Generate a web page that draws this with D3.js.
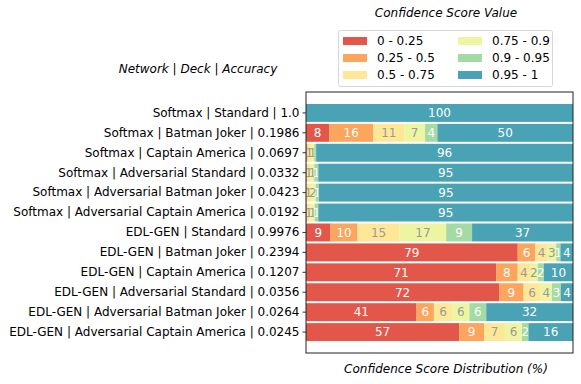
<!DOCTYPE html>
<html>
<head>
<meta charset="utf-8">
<script src="https://cdn.jsdelivr.net/npm/d3@7"></script>
<style>
  body { margin: 0; background: #fff; }
  text { font-family: "DejaVu Sans", sans-serif; }
</style>
</head>
<body>
<div id="chart"></div>
<script>
// rows: network | deck | accuracy
var rows = [
    "Softmax | Standard | 1.0",
    "Softmax | Batman Joker | 0.1986",
    "Softmax | Captain America | 0.0697",
    "Softmax | Adversarial Standard | 0.0332",
    "Softmax | Adversarial Batman Joker | 0.0423",
    "Softmax | Adversarial Captain America | 0.0192",
    "EDL-GEN | Standard | 0.9976",
    "EDL-GEN | Batman Joker | 0.2394",
    "EDL-GEN | Captain America | 0.1207",
    "EDL-GEN | Adversarial Standard | 0.0356",
    "EDL-GEN | Adversarial Batman Joker | 0.0264",
    "EDL-GEN | Adversarial Captain America | 0.0245"
];

var bins = ["0 - 0.25", "0.25 - 0.5", "0.5 - 0.75", "0.75 - 0.9", "0.9 - 0.95", "0.95 - 1"];
var binColors = ["#e3574b", "#fba55d", "#fee797", "#edf5a2", "#a4daa4", "#4aa3b4"];

// percentage of samples per confidence bin, one value per row
var conf000_025 = [0, 8.7, 0.2, 0.1, 0.1, 0.2, 9.2, 79.3, 71.2, 72.3, 41.4, 57.4];
var conf025_050 = [0, 16.5, 0.4, 0.3, 0.2, 0.3, 10.1, 6.6, 8.1, 9.2, 6.5, 9.3];
var conf050_075 = [0, 11.6, 1.3, 1.3, 1.2, 1.2, 15.8, 4.6, 4.6, 6.4, 6.8, 7.9];
var conf075_090 = [0, 7.8, 1.2, 1.4, 2.1, 1.6, 17.4, 3.2, 2.9, 4.2, 6.5, 6.3];
var conf090_095 = [0, 4.6, 0.7, 1.5, 1.2, 1.3, 9.7, 1.6, 2.3, 3.4, 6.3, 2.4];
var conf095_100 = [100, 50.8, 96.2, 95.4, 95.2, 95.4, 37.8, 4.7, 10.9, 4.5, 32.5, 16.7];

var series = [conf000_025, conf025_050, conf050_075, conf075_090, conf090_095, conf095_100];

var width = 581, height = 384;
var margin = {top: 92, right: 8, bottom: 31, left: 306};

var svg = d3.select("#chart").append("svg")
    .attr("width", width)
    .attr("height", height);

// table for d3.stack
var table = rows.map(function (r, i) {
    var d = {row: r};
    bins.forEach(function (b, j) { d[b] = series[j][i]; });
    return d;
});

var stacked = d3.stack().keys(bins)(table);

var x = d3.scaleLinear()
    .domain([0, 100])
    .range([margin.left, width - margin.right]);

var y = d3.scaleBand()
    .domain(rows)
    .range([margin.top, height - margin.bottom])
    .paddingInner(0.1)
    .paddingOuter(0.6);

// Bars
var layers = svg.selectAll(".layer")
    .data(stacked)
    .enter().append("g")
    .attr("class", "layer")
    .attr("fill", function (d, i) { return binColors[i]; });

layers.selectAll("rect")
    .data(function (d) { return d; })
    .enter().append("rect")
    .attr("x", function (d) { return x(d[0]); })
    .attr("y", function (d) { return y(d.data.row); })
    .attr("width", function (d) { return x(d[1]) - x(d[0]); })
    .attr("height", y.bandwidth());

// Segment labels (truncated to integers)
layers.each(function (layer, i) {
    d3.select(this).selectAll("text")
        .data(layer.filter(function (d) { return Math.floor(d[1] - d[0] + 1e-9) >= 1; }))
        .enter().append("text")
        .attr("x", function (d) { return (x(d[0]) + x(d[1])) / 2; })
        .attr("y", function (d) { return y(d.data.row) + y.bandwidth() / 2; })
        .attr("dy", "0.36em")
        .attr("text-anchor", "middle")
        .attr("font-size", "12px")
        .attr("fill", (i == 2 || i == 3) ? "#9a9a9a" : "#ffffff")
        .text(function (d) { return Math.floor(d[1] - d[0] + 1e-9); });
});

// Y axis
var yAxis = d3.axisLeft(y).tickSize(3.5).tickPadding(3);
var gy = svg.append("g")
    .attr("transform", "translate(" + margin.left + ",0)")
    .call(yAxis);
gy.select(".domain").remove();
gy.selectAll("text")
    .attr("font-size", "12px")
    .attr("fill", "#000")
    .style("font-family", "DejaVu Sans, sans-serif");
gy.selectAll("line").attr("stroke", "#000").attr("stroke-width", 0.8);

// Frame
svg.append("rect")
    .attr("x", margin.left)
    .attr("y", margin.top)
    .attr("width", width - margin.right - margin.left)
    .attr("height", height - margin.bottom - margin.top)
    .attr("fill", "none")
    .attr("stroke", "#222")
    .attr("stroke-width", 1);

// Titles
svg.append("text")
    .attr("x", 198).attr("y", 73)
    .attr("text-anchor", "middle")
    .attr("font-size", "12px")
    .attr("font-style", "italic")
    .text("Network | Deck | Accuracy");

svg.append("text")
    .attr("x", 446).attr("y", 373)
    .attr("text-anchor", "middle")
    .attr("font-size", "12px")
    .attr("font-style", "italic")
    .text("Confidence Score Distribution (%)");

svg.append("text")
    .attr("x", 446).attr("y", 17)
    .attr("text-anchor", "middle")
    .attr("font-size", "12px")
    .attr("font-style", "italic")
    .text("Confidence Score Value");

// Legend
var legend = svg.append("g");
legend.append("rect")
    .attr("x", 338.5).attr("y", 30.5)
    .attr("width", 214).attr("height", 56)
    .attr("rx", 2)
    .attr("fill", "#fff")
    .attr("stroke", "#d6d6d6");

var items = legend.selectAll(".item")
    .data(bins)
    .enter().append("g")
    .attr("class", "item")
    .attr("transform", function (d, i) {
        var col = Math.floor(i / 3), row = i % 3;
        return "translate(" + (343 + col * 115) + "," + (36 + row * 17) + ")";
    });

items.append("rect")
    .attr("width", 24).attr("height", 8)
    .attr("y", 1)
    .attr("fill", function (d, i) { return binColors[i]; });

items.append("text")
    .attr("x", 34).attr("y", 5)
    .attr("dy", "0.36em")
    .attr("font-size", "12px")
    .text(function (d) { return d; });
</script>
</body>
</html>
